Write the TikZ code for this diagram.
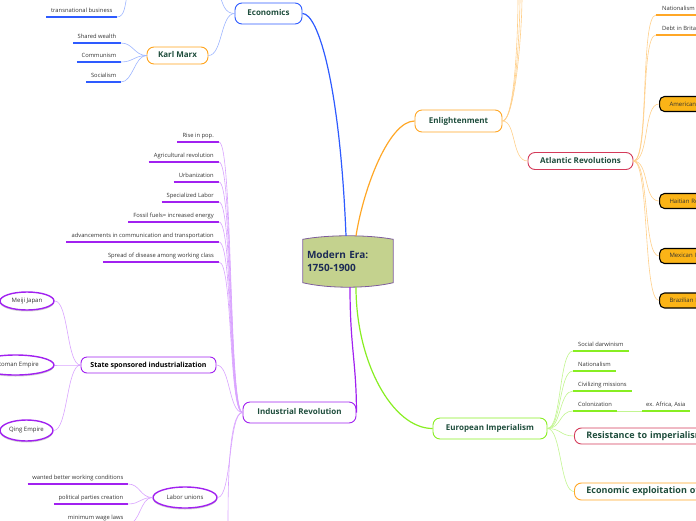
\documentclass[tikz,border=0pt]{standalone}
\usepackage{fontspec}
\setmainfont{Open Sans}
\usetikzlibrary{shapes.geometric,shadows,backgrounds}

\definecolor{ecoblue}{HTML}{2E5BFF}
\definecolor{ecolight}{HTML}{9DB5FF}
\definecolor{enlorange}{HTML}{FFA726}
\definecolor{enllight}{HTML}{FFCF8A}
\definecolor{marxorange}{HTML}{FFA31A}
\definecolor{atlred}{HTML}{D43B5A}
\definecolor{indpurple}{HTML}{A121F0}
\definecolor{indlight}{HTML}{D9A3FF}
\definecolor{impgreen}{HTML}{88EE22}
\definecolor{implight}{HTML}{C2F590}
\definecolor{eraolive}{HTML}{C4D28E}
\definecolor{eraedge}{HTML}{7D5C9C}
\definecolor{eranavy}{HTML}{1C2B55}
\definecolor{topictext}{HTML}{1E4D3C}
\definecolor{revamber}{HTML}{FBB417}
\definecolor{leaftext}{HTML}{333333}

\tikzset{
  topic/.style={draw, fill=white, rounded corners=7pt, line width=.9pt, text=topictext,
    font=\fontsize{8}{10}\selectfont\bfseries, text height=6pt, text depth=1.8pt, inner xsep=8pt},
  leaf/.style={inner xsep=4.5pt, inner ysep=3pt, text=leaftext, font=\fontsize{5.8}{7}\selectfont,
    text height=4.2pt, text depth=1.2pt},
  uline/.style={line width=1.5pt, draw=#1},
  revbox/.style={draw=black, line width=1.1pt, fill=revamber, rounded corners=5pt, anchor=west,
    minimum height=15pt, text width=70pt, inner xsep=10pt, align=left, text=leaftext,
    font=\fontsize{6}{7}\selectfont},
  oval/.style={ellipse, draw=indpurple, line width=1.4pt, fill=white, inner sep=0pt, text=leaftext,
    font=\fontsize{6}{7}\selectfont, drop shadow={shadow xshift=0pt, shadow yshift=-1.5pt, opacity=.35}},
  mainblue/.style={draw=ecoblue, line width=1.2pt},
  subblue/.style={draw=ecolight, line width=.6pt},
  mainorange/.style={draw=enlorange, line width=1.2pt},
  suborange/.style={draw=enllight, line width=.6pt},
  mainpurple/.style={draw=indpurple, line width=1.2pt},
  subpurple/.style={draw=indlight, line width=.6pt},
  maingreen/.style={draw=impgreen, line width=1.2pt},
  subgreen/.style={draw=implight, line width=.6pt}
}

\begin{document}
\begin{tikzpicture}[x=1pt,y=-1pt]
\useasboundingbox (0,0) rectangle (696,520);
\clip (0,0) rectangle (696,520);

% centre
\node[font=\fontsize{10}{13}\selectfont\bfseries, text=eranavy, text width=82pt, align=left,
  inner xsep=4pt, minimum height=43pt] (era) at (348,261) {Modern Era:\\1750-1900};
\begin{scope}[on background layer]
\draw[draw=eraedge, fill=eraolive, line width=.8pt] (era.north west) .. controls +(25,-4.7) and +(-25,-4.7) .. (era.north east)
  -- (era.south east) .. controls +(-25,6) and +(25,6) .. (era.south west) -- cycle;
\end{scope}

% economics
\node[topic, draw=ecoblue, minimum width=67pt, minimum height=21pt] (econ) at (268.5,13.5) {Economics};
\node[topic, draw=marxorange, minimum width=61pt, minimum height=17pt] (marx) at (177.5,55.5) {Karl Marx};
\node[leaf, anchor=south east] (trans) at (117,17) {transnational business};
\node[leaf, anchor=south east] (wealth) at (121,43) {Shared wealth};
\node[leaf, anchor=south east] (commun) at (121,62) {Communism};
\node[leaf, anchor=south east] (social) at (121,82) {Socialism};
\coordinate (econup) at (220,-4);
\coordinate (transup) at (127,-4);

% enlightenment
\node[topic, draw=enlorange, minimum width=87pt, minimum height=22pt] (enl) at (458.5,121) {Enlightenment};
\node[topic, draw=atlred, minimum width=105pt, minimum height=17pt] (atl) at (580.5,161) {Atlantic Revolutions};
\node[leaf, anchor=south west, inner xsep=6pt] (natl) at (656,15) {Nationalism};
\node[leaf, anchor=south west, inner xsep=6pt] (debt) at (656,35) {Debt in Britain};
\node[revbox] (amrev) at (659,104) {American Revolution};
\node[revbox] (hairev) at (659,201) {Haitian Revolution};
\node[revbox] (mexind) at (659,256) {Mexican Independence};
\node[revbox] (brzind) at (659,300.5) {Brazilian Independence};
\coordinate (enlup) at (520,-4);

% industrial revolution
\node[topic, draw=indpurple, minimum width=113pt, minimum height=21pt] (ind) at (299.5,412.5) {Industrial Revolution};
\node[leaf, anchor=south east, inner xsep=5pt] (pop) at (219,142) {Rise in pop.};
\node[leaf, anchor=south east, inner xsep=5pt] (agri) at (219,162) {Agricultural revolution};
\node[leaf, anchor=south east, inner xsep=5pt] (urban) at (219,182) {Urbanization};
\node[leaf, anchor=south east, inner xsep=5pt] (speclab) at (219,202) {Specialized Labor};
\node[leaf, anchor=south east, inner xsep=5pt] (fossil) at (219,222) {Fossil fuels= increased energy};
\node[leaf, anchor=south east, inner xsep=5pt] (advance) at (219,242) {advancements in communication and transportation};
\node[leaf, anchor=south east, inner xsep=5pt] (disease) at (219,262) {Spread of disease among working class};
\node[topic, draw=indpurple, text=black, font=\fontsize{7}{9}\selectfont\bfseries, rounded corners=6pt,
  minimum width=135pt, minimum height=16pt] (state) at (148.5,365) {State sponsored industrialization};
\node[oval, minimum width=54pt, minimum height=18pt] (meiji) at (27,301) {Meiji Japan};
\node[oval, minimum width=77pt, minimum height=20pt] (ottoman) at (15.5,365) {Ottoman Empire};
\node[oval, minimum width=53pt, minimum height=21pt] (qing) at (26.5,430.5) {Qing Empire};
\node[oval, minimum width=64pt, minimum height=21pt] (unions) at (185,497.5) {Labor unions};
\node[leaf, anchor=south east] (wanted) at (128,484) {wanted better working conditions};
\node[leaf, anchor=south east] (parties) at (128,504) {political parties creation};
\node[leaf, anchor=south east] (wage) at (128,524) {minimum wage laws};
\coordinate (inddown) at (228,526);

% european imperialism
\node[topic, draw=impgreen, minimum width=114pt, minimum height=21pt] (imp) at (490,428.5) {European Imperialism};
\node[leaf, anchor=south west, inner xsep=5pt] (darwin) at (573,351) {Social darwinism};
\node[leaf, anchor=south west, inner xsep=5pt] (natlsm) at (573,371) {Nationalism};
\node[leaf, anchor=south west, inner xsep=5pt] (civil) at (573,391) {Civilizing missions};
\node[leaf, anchor=south west, inner xsep=5pt] (colon) at (573,411) {Colonization};
\node[leaf, anchor=south west, inner xsep=4pt] (exafr) at (642,411) {ex. Africa, Asia};
\node[topic, draw=atlred, anchor=west, font=\fontsize{9}{11}\selectfont\bfseries, text width=150pt,
  align=left, inner xsep=12pt, minimum height=16pt] (resist) at (574,436) {Resistance to imperialism};
\node[topic, draw=enlorange, anchor=west, font=\fontsize{9}{11}\selectfont\bfseries, text width=170pt,
  align=left, inner xsep=12pt, minimum height=17pt] (exploit) at (574,491.5) {Economic exploitation of colonies};

% underlines
\foreach \n in {trans,wealth,commun,social}
  \draw[uline=ecoblue] (\n.south west) -- (\n.south east);
\foreach \n in {pop,agri,urban,speclab,fossil,advance,disease,wanted,parties,wage}
  \draw[uline=indpurple] (\n.south west) -- (\n.south east);
\foreach \n in {natl,debt}
  \draw[uline=enlorange] (\n.south west) -- ([xshift=40pt]\n.south east);
\foreach \n in {darwin,natlsm,civil,colon,exafr}
  \draw[uline=impgreen] (\n.south west) -- (\n.south east);

% blue branch
\draw[mainblue] (econ.east) .. controls +(16,0) and +(-6,-150) .. ([xshift=-2pt,yshift=3.5pt]era.north);
\draw[subblue] (econ.west) .. controls +(-10,0) and +(3,8) .. (econup);
\draw[subblue] (econ.west) .. controls +(-14,0) and +(14,0) .. (marx.east);
\foreach \n in {wealth,commun,social}
  \draw[subblue] (marx.west) .. controls +(-12,0) and +(12,0) .. (\n.south east);
\draw[subblue] (trans.south east) .. controls +(8,0) and +(-2,8) .. (transup);

% orange branch
\draw[mainorange] ([xshift=8pt,yshift=3.5pt]era.north) .. controls +(8,-50) and +(-25,0) .. (enl.west);
\foreach \dx in {-2,0,2}
  \draw[suborange] (enl.east) .. controls +(12,0) and +(0,40) .. ([xshift=\dx pt]enlup);
\draw[suborange] (enl.east) .. controls +(14,0) and +(-16,0) .. (atl.west);
\foreach \n in {natl,debt}
  \draw[suborange] (atl.east) .. controls +(16,0) and +(-16,0) .. (\n.south west);
\foreach \n in {amrev,hairev,mexind,brzind}
  \draw[suborange] (atl.east) .. controls +(16,0) and +(-16,0) .. (\n.west);

% purple branch
\draw[mainpurple] ([xshift=2pt,yshift=-4.5pt]era.south) .. controls +(0,60) and +(0,-50) .. (ind.east);
\foreach \n in {pop,agri,urban,speclab,fossil,advance,disease}
  \draw[subpurple] (ind.west) .. controls +(-14,0) and +(14,0) .. (\n.south east);
\draw[subpurple] (ind.west) .. controls +(-14,0) and +(14,0) .. (state.east);
\draw[subpurple] (ind.west) .. controls +(-14,0) and +(14,0) .. (unions.east);
\draw[subpurple] (ind.west) .. controls +(-14,0) and +(0,-40) .. (inddown);
\foreach \n in {meiji,ottoman,qing}
  \draw[subpurple] (state.west) .. controls +(-14,0) and +(14,0) .. (\n.east);
\foreach \n in {wanted,parties,wage}
  \draw[subpurple] (unions.west) .. controls +(-12,0) and +(12,0) .. (\n.south east);

% green branch
\draw[maingreen] ([xshift=8pt,yshift=-4.5pt]era.south) .. controls +(0,75) and +(-40,0) .. (imp.west);
\foreach \n in {darwin,natlsm,civil,colon}
  \draw[subgreen] (imp.east) .. controls +(14,0) and +(-14,0) .. (\n.south west);
\foreach \n in {resist,exploit}
  \draw[subgreen] (imp.east) .. controls +(14,0) and +(-14,0) .. (\n.west);
\draw[subgreen] (colon.south east) -- (exafr.south west);
\end{tikzpicture}
\end{document}
